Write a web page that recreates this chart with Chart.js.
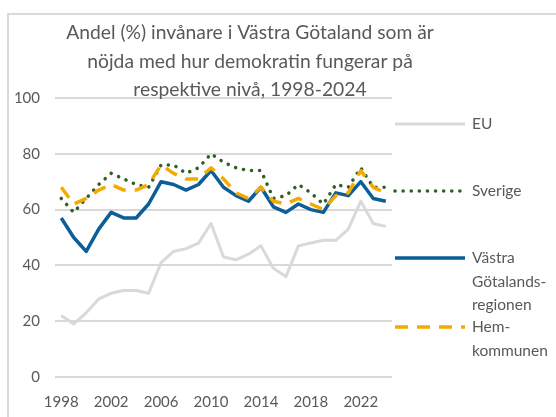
<!DOCTYPE html>
<html><head><meta charset="utf-8">
<script src="https://cdn.jsdelivr.net/npm/chart.js@4.4.1/dist/chart.umd.min.js"></script>
<style>
html,body{margin:0;padding:0;background:#fff;overflow:hidden;width:556px;height:417px;}
#frame{position:absolute;left:7px;top:13px;width:600px;height:500px;border:2px solid #d9d9d9;box-sizing:border-box;}
#wrap{position:absolute;left:0;top:0;width:556px;height:417px;}
</style></head><body>
<div id="frame"></div>
<div id="wrap"><canvas id="c" width="556" height="417"></canvas></div>
<script>
const years = ['1998','1999','2000','2001','2002','2003','2004','2005','2006','2007','2008','2009','2010','2011','2012','2013','2014','2015','2016','2017','2018','2019','2020','2021','2022','2023','2024'];
const euValues = [22,19,23,28,30,31,31,30,41,45,46,48,55,43,42,44,47,39,36,47,48,49,49,53,63,55,54];
const sverigeValues = [64,59,64,69,73,71,69,68,76,76,73,75,80,77,75,74,74,64,65,69,66,62,69,68,75,68,68];
const vgrValues = [57,50,45,53,59,57,57,62,70,69,67,69,74,68,65,63,68,61,59,62,60,59,66,65,70,64,63];
const hemValues = [68,62,64,67,69,67,67,69,76,73,71,71,75,71,66,64,68,63,62,64,62,60,65,66,74,68,66];
const yTicks = [0,20,40,60,80,100];
const titleLines = ['Andel (%) invånare i Västra Götaland som är','nöjda med hur demokratin fungerar på','respektive nivå, 1998-2024'];
const legendLines = [['EU'],['Sverige'],['Västra','Götalands-','regionen'],['Hem-','kommunen']];
const seriesNames = ['EU','Sverige','Västra Götalandsregionen','Hemkommunen'];

const TEXT = '#595959';
Chart.defaults.font.family = 'Lato, "Open Sans", sans-serif';
Chart.defaults.color = TEXT;

const decor = {
  id: 'decor',
  afterDraw(chart) {
    const ctx = chart.ctx;
    ctx.save();
    ctx.fillStyle = TEXT;
    ctx.textAlign = 'center';
    ctx.textBaseline = 'middle';
    ctx.font = '19.3px Lato, "Open Sans", sans-serif';
    titleLines.forEach((t, i) => ctx.fillText(t, 250, 33 + i * 28.5));
    const ys = [124, 191, 258, 327];
    ctx.font = '15.5px Lato, "Open Sans", sans-serif';
    ctx.textAlign = 'left';
    chart.data.datasets.forEach((ds, i) => {
      const y = ys[i];
      ctx.save();
      ctx.strokeStyle = ds.borderColor;
      ctx.lineWidth = ds.borderWidth;
      ctx.lineCap = ds.borderCapStyle || 'butt';
      ctx.setLineDash(ds.borderDash || []);
      ctx.beginPath();
      ctx.moveTo(395, y);
      ctx.lineTo(465, y);
      ctx.stroke();
      ctx.restore();
      legendLines[i].forEach((t, j) => ctx.fillText(t, 472, y + j * 23.5));
    });
    ctx.restore();
  }
};

new Chart(document.getElementById('c'), {
  type: 'line',
  data: {
    labels: years,
    datasets: [
      { label: seriesNames[0], data: euValues, borderColor: '#d9d9d9', borderWidth: 3, order: 3 },
      { label: seriesNames[1], data: sverigeValues, borderColor: '#2f5f23', borderWidth: 3.5, borderDash: [0.1, 8], borderCapStyle: 'round', order: 1 },
      { label: seriesNames[2], data: vgrValues, borderColor: '#0b5e96', borderWidth: 3.5, order: 2 },
      { label: seriesNames[3], data: hemValues, borderColor: '#f4aa00', borderWidth: 3.5, borderDash: [13, 9], order: 0 }
    ]
  },
  options: {
    responsive: false,
    animation: false,
    devicePixelRatio: 1,
    layout: { padding: { left: 0, right: 164, top: 98, bottom: 0 } },
    elements: { point: { radius: 0, hoverRadius: 0 }, line: { tension: 0, borderJoinStyle: 'round' } },
    plugins: { legend: { display: false }, title: { display: false }, tooltip: { enabled: false } },
    scales: {
      x: {
        type: 'category',
        offset: true,
        grid: { display: false },
        border: { display: false },
        afterFit: s => { s.height = 40; },
        ticks: {
          autoSkip: false, maxRotation: 0, padding: 8,
          font: { size: 15 }, color: TEXT,
          callback: (v, i) => (i % 4 === 0 ? years[i] : null)
        }
      },
      y: {
        min: 0, max: 100,
        afterFit: s => { s.width = 55; },
        afterBuildTicks: s => { s.ticks = yTicks.map(v => ({ value: v })); },
        grid: { color: '#d9d9d9', lineWidth: 2, drawTicks: false },
        border: { display: false },
        ticks: { padding: 15, font: { size: 15 }, color: TEXT }
      }
    }
  },
  plugins: [decor]
});
</script>
</body></html>
